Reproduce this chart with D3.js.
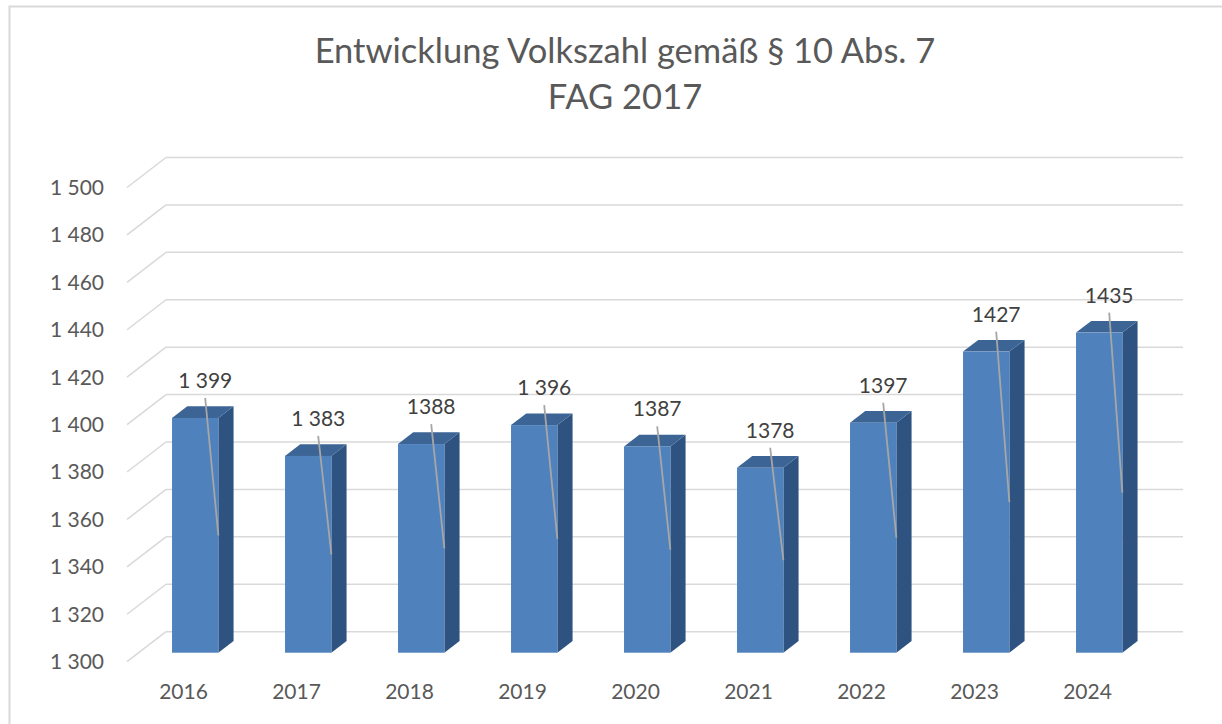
<!DOCTYPE html>
<html>
<head>
<meta charset="utf-8">
<script src="https://cdn.jsdelivr.net/npm/d3@7"></script>
<style>
  body { margin: 0; background: #fff; }
  text { font-family: Lato, "Open Sans", sans-serif; }
</style>
</head>
<body>
<div id="chart"></div>
<script>
// chart values
var years = ["2016", "2017", "2018", "2019", "2020", "2021", "2022", "2023", "2024"];
var values = [1399, 1383, 1388, 1396, 1387, 1378, 1397, 1427, 1435];
var valueLabels = ["1 399", "1 383", "1388", "1 396", "1387", "1378", "1397", "1427", "1435"];
var yTicks = [1300, 1320, 1340, 1360, 1380, 1400, 1420, 1440, 1460, 1480, 1500];
var titleLines = ["Entwicklung Volkszahl gemäß § 10 Abs. 7", "FAG 2017"];

var width = 1222, height = 724;

// 3d look: how far the back wall sits from the front plane
var depthX = 39, depthY = -30;
var barFront = 0.3, barBack = 0.69;

var svg = d3.select("#chart").append("svg")
    .attr("width", width)
    .attr("height", height);

// outer chart border
svg.append("rect")
    .attr("x", 9.5).attr("y", 6.5)
    .attr("width", 1400).attr("height", 900)
    .style("fill", "#fff")
    .style("stroke", "#d9d9d9")
    .style("stroke-width", 2);

// title
svg.append("g").selectAll("text")
    .data(titleLines)
    .enter()
    .append("text")
    .attr("x", 625)
    .attr("y", function(d, i){ return 63 + i * 46; })
    .attr("text-anchor", "middle")
    .style("font-size", "34.5px")
    .style("fill", "#595959")
    .text(function(d){ return d; });

var x = d3.scaleBand()
    .domain(years)
    .range([127, 1144]);

var y = d3.scaleLinear()
    .domain([1300, 1500])
    .range([661.7, 187.5]);

var barW = x.bandwidth() * 0.41;

// back wall gridlines and the slanted floor lines
var grid = svg.append("g").attr("class", "grid");
grid.selectAll("line.back")
    .data(yTicks)
    .enter()
    .append("line")
    .attr("x1", 127 + depthX).attr("x2", 1144 + depthX)
    .attr("y1", function(d){ return y(d) + depthY; })
    .attr("y2", function(d){ return y(d) + depthY; })
    .style("stroke", "#d9d9d9")
    .style("stroke-width", 1.5);

grid.selectAll("line.side")
    .data(yTicks)
    .enter()
    .append("line")
    .attr("x1", 127).attr("x2", 127 + depthX)
    .attr("y1", function(d){ return y(d); })
    .attr("y2", function(d){ return y(d) + depthY; })
    .style("stroke", "#d9d9d9")
    .style("stroke-width", 1.5);

// value axis labels
svg.append("g").selectAll("text")
    .data(yTicks)
    .enter()
    .append("text")
    .attr("x", 104)
    .attr("y", function(d){ return y(d); })
    .attr("dy", "0.35em")
    .attr("text-anchor", "end")
    .style("font-size", "21px")
    .style("fill", "#595959")
    .text(function(d){ return d3.format(",")(d).replace(",", " "); });

// category labels
svg.append("g").selectAll("text")
    .data(years)
    .enter()
    .append("text")
    .attr("x", function(d){ return x(d) + x.bandwidth() / 2; })
    .attr("y", 692)
    .attr("dy", "0.35em")
    .attr("text-anchor", "middle")
    .style("font-size", "21px")
    .style("fill", "#595959")
    .text(function(d){ return d; });

// bars, built from three faces each
var bars = svg.append("g").selectAll("g")
    .data(values)
    .enter()
    .append("g");

function px(i, f){ return x(years[i]) + (x.bandwidth() - barW) / 2 + depthX * f; }
function py(v, f){ return y(v) + depthY * f; }

bars.append("polygon")  // side
    .attr("points", function(d, i){
        var a = px(i, barFront) + barW, b = px(i, barBack) + barW;
        return [[a, py(d, barFront)], [b, py(d, barBack)], [b, py(1300, barBack)], [a, py(1300, barFront)]].join(" ");
    })
    .style("fill", "#2f5380");

bars.append("polygon")  // top
    .attr("points", function(d, i){
        var a = px(i, barFront), b = px(i, barBack);
        return [[a, py(d, barFront)], [a + barW, py(d, barFront)], [b + barW, py(d, barBack)], [b, py(d, barBack)]].join(" ");
    })
    .style("fill", "#3c6596");

bars.append("rect")  // front
    .attr("x", function(d, i){ return px(i, barFront); })
    .attr("y", function(d){ return py(d, barFront); })
    .attr("width", barW)
    .attr("height", function(d){ return py(1300, barFront) - py(d, barFront); })
    .style("fill", "#4f81bd");

// data labels with leader lines down to the middle of each bar
bars.append("line")
    .attr("x1", function(d, i){ return px(i, barFront) + barW / 2 + 10; })
    .attr("y1", function(d){ return py(d, barFront) - 20; })
    .attr("x2", function(d, i){ return px(i, barFront) + barW; })
    .attr("y2", function(d){ return (py(d, barFront) + py(1300, barFront)) / 2; })
    .style("stroke", "#a6a6a6")
    .style("stroke-width", 1.8);

bars.append("text")
    .attr("x", function(d, i){ return px(i, barFront) + barW / 2 + 10; })
    .attr("y", function(d){ return py(d, barFront) - 30; })
    .attr("text-anchor", "middle")
    .style("font-size", "21px")
    .style("fill", "#404040")
    .text(function(d, i){ return valueLabels[i]; });
</script>
</body>
</html>
